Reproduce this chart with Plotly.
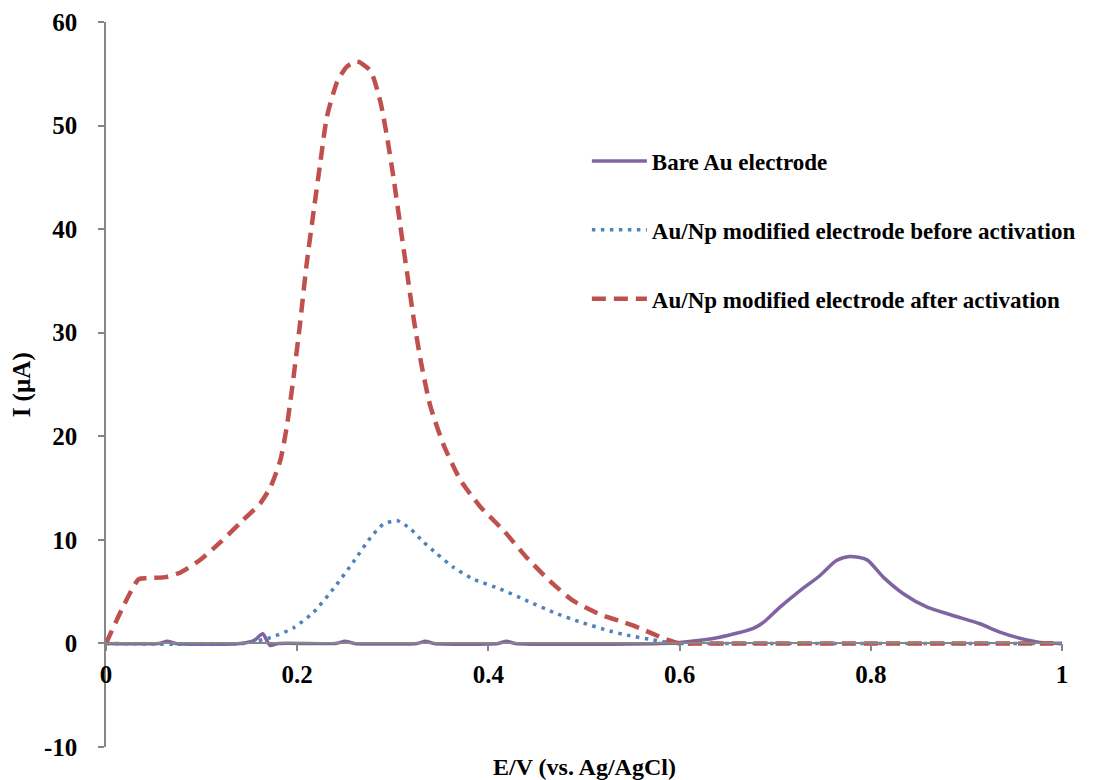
import plotly.graph_objects as go

# Potential (V vs. Ag/AgCl) and current (µA) for each electrode
bare_x = [0.0, 0.055, 0.064, 0.073, 0.14, 0.155, 0.164, 0.168, 0.172, 0.18,
          0.24, 0.25, 0.26, 0.325, 0.334, 0.343, 0.41, 0.419, 0.428, 0.58,
          0.6, 0.642, 0.677, 0.688, 0.705, 0.726, 0.747, 0.764, 0.778, 0.796,
          0.813, 0.834, 0.859, 0.886, 0.914, 0.935, 0.956, 0.977, 1.0]
bare_y = [0.0, 0.0, 0.2, 0.0, 0.0, 0.3, 0.94, 0.3, -0.2, 0.0,
          0.0, 0.2, 0.0, 0.0, 0.2, 0.0, 0.0, 0.2, 0.0, 0.0,
          0.1, 0.6, 1.45, 2.05, 3.5, 5.1, 6.56, 8.0, 8.4, 8.07,
          6.4, 4.8, 3.5, 2.7, 1.9, 1.1, 0.5, 0.1, 0.0]

before_x = [0.0, 0.144, 0.172, 0.196, 0.217, 0.238, 0.259, 0.2765, 0.29,
            0.3044, 0.318, 0.332, 0.346, 0.3636, 0.3845, 0.412, 0.44,
            0.468, 0.496, 0.527, 0.545, 0.572, 0.595, 0.62, 0.98, 1.0]
before_y = [0.0, 0.0, 0.56, 1.5, 3.0, 5.3, 7.9, 10.2, 11.5,
            11.86, 11.1, 9.8, 8.66, 7.34, 6.2, 5.27, 4.14,
            3.0, 2.07, 1.2, 0.8, 0.35, 0.0, 0.0, 0.0, 0.0]

after_x = [0.0, 0.0343, 0.043, 0.062, 0.078, 0.099, 0.12, 0.141, 0.1615,
           0.172, 0.1824, 0.1894, 0.196, 0.203, 0.2097, 0.2173, 0.224,
           0.231, 0.2417, 0.252, 0.2626, 0.2766, 0.287, 0.294, 0.301, 0.3079,
           0.3149, 0.322, 0.3288, 0.339, 0.353, 0.3706, 0.3915, 0.4159,
           0.44, 0.4647, 0.489, 0.517, 0.541, 0.559, 0.583, 0.6, 0.62,
           0.98, 1.0]
after_y = [0.0, 6.21, 6.3, 6.4, 6.85, 8.1, 9.8, 11.7, 13.55,
           15.1, 17.7, 21.1, 25.6, 30.9, 36.5, 41.8, 46.3,
           50.8, 54.2, 55.7, 56.2, 55.3, 52.3, 48.9, 44.8, 40.3,
           35.8, 31.25, 27.5, 23.0, 19.2, 15.8, 13.2, 10.9,
           8.3, 6.0, 4.1, 2.8, 2.05, 1.45, 0.5, 0.0, 0.0,
           0.0, 0.0]

x_ticks = [0, 0.2, 0.4, 0.6, 0.8, 1]
y_ticks = [-10, 0, 10, 20, 30, 40, 50, 60]

FONT = "Liberation Serif"
AXIS_GREY = "#868686"

fig = go.Figure()
fig.add_trace(go.Scatter(
    x=bare_x, y=bare_y, mode="lines", name="Bare Au electrode",
    legendgroup="a",
    line=dict(color="#8064A2", width=3.5, shape="spline", smoothing=0.7),
))
fig.add_trace(go.Scatter(
    x=before_x, y=before_y, mode="lines",
    name="Au/Np modified electrode before activation", legendgroup="b",
    line=dict(color="#4F81BD", width=3.5, dash="3.5px,5.5px",
              shape="spline", smoothing=0.6),
))
fig.add_trace(go.Scatter(
    x=after_x, y=after_y, mode="lines",
    name="Au/Np modified electrode after activation", legendgroup="c",
    line=dict(color="#C0504D", width=4.5, dash="14px,8px",
              shape="spline", smoothing=0.6),
))

fig.update_layout(
    width=1093, height=780,
    margin=dict(l=106, r=31, t=22, b=33, autoexpand=False),
    paper_bgcolor="white", plot_bgcolor="white",
    font=dict(family=FONT, color="black", weight="bold"),
    showlegend=True,
    legend=dict(
        x=0.503, y=0.838, xanchor="left", yanchor="top",
        font=dict(family=FONT, size=23, color="black", weight="bold"),
        itemwidth=55, tracegroupgap=36, bgcolor="rgba(0,0,0,0)",
    ),
    xaxis=dict(
        range=[0, 1], tickvals=x_ticks, ticktext=[str(v) for v in x_ticks],
        showgrid=False, zeroline=False, showline=True, linecolor=AXIS_GREY,
        linewidth=1.5, ticks="outside", ticklen=7, tickcolor=AXIS_GREY,
        tickwidth=1.5, anchor="free", position=1 / 7,
        tickfont=dict(family=FONT, size=25, color="black", weight="bold"),
        ticklabelstandoff=2,
    ),
    yaxis=dict(
        range=[-10, 60], tickvals=y_ticks, ticktext=[str(v) for v in y_ticks],
        domain=[0, 1],
        showgrid=False, zeroline=False, showline=True, linecolor=AXIS_GREY,
        linewidth=1.5, ticks="outside", ticklen=6, tickcolor=AXIS_GREY,
        tickwidth=1.5,
        tickfont=dict(family=FONT, size=25, color="black", weight="bold"),
        ticklabelstandoff=16,
    ),
    annotations=[
        dict(text="E/V (vs. Ag/AgCl)", xref="paper", yref="paper",
             x=0.5, y=-0.027, xanchor="center", yanchor="middle",
             showarrow=False,
             font=dict(family=FONT, size=24, color="black", weight="bold")),
        dict(text="I (µA)", xref="paper", yref="paper",
             x=-0.088, y=0.5, xanchor="center", yanchor="middle",
             textangle=-90, showarrow=False,
             font=dict(family=FONT, size=25, color="black", weight="bold")),
    ],
)

fig.write_html("out.html")
